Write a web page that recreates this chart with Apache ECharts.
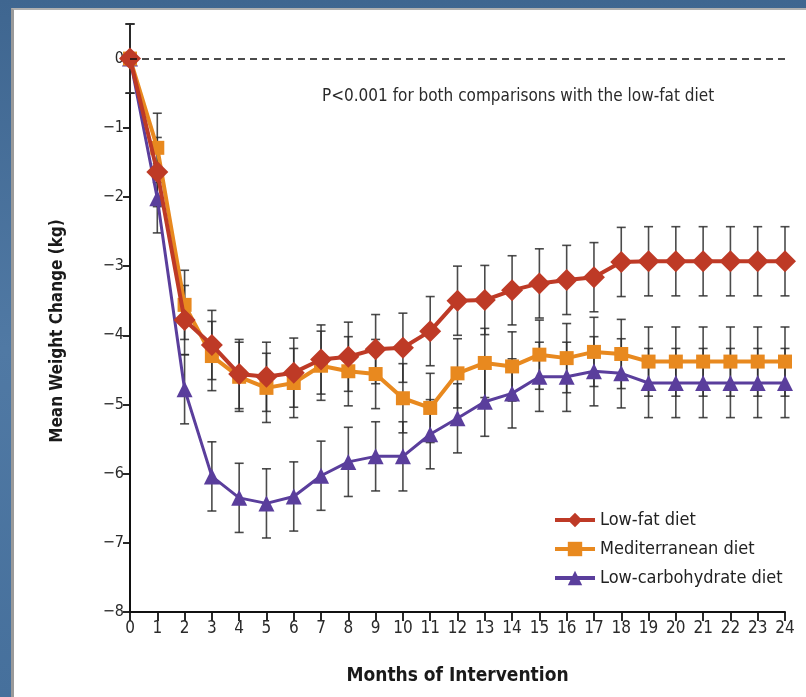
<!DOCTYPE html>
<html>
<head>
<meta charset="utf-8">
<script src="https://cdn.jsdelivr.net/npm/echarts@6/dist/echarts.min.js"></script>
<style>
  html, body { margin: 0; padding: 0; width: 806px; height: 697px; overflow: hidden; }
  body { background: linear-gradient(180deg, #3f6690 0%, #5079a4 50%, #46709c 100%); position: relative; }
  #panel { position: absolute; left: 11px; top: 8px; width: 795px; height: 689px; background: #ffffff;
           border-left: 3px solid #9a9a9a; border-top: 2px solid #b0b0b0; box-sizing: border-box; }
  #chart { position: absolute; left: 0; top: 0; width: 806px; height: 697px; }
</style>
</head>
<body>
<div id="panel"></div>
<div id="chart"></div>
<script>
const months = [0,1,2,3,4,5,6,7,8,9,10,11,12,13,14,15,16,17,18,19,20,21,22,23,24];
const seriesNames = ['Low-fat diet', 'Mediterranean diet', 'Low-carbohydrate diet'];
const lowFat = [0, -1.64, -3.78, -4.14, -4.56, -4.6, -4.54, -4.35, -4.31, -4.2, -4.18, -3.94, -3.5, -3.49, -3.35, -3.25, -3.2, -3.16, -2.94, -2.93, -2.93, -2.93, -2.93, -2.93, -2.93];
const mediterranean = [0, -1.29, -3.56, -4.3, -4.6, -4.76, -4.69, -4.44, -4.52, -4.56, -4.91, -5.05, -4.55, -4.4, -4.45, -4.28, -4.33, -4.24, -4.27, -4.38, -4.38, -4.38, -4.38, -4.38, -4.38];
const lowCarb = [0, -2.02, -4.78, -6.04, -6.35, -6.43, -6.33, -6.03, -5.83, -5.75, -5.75, -5.43, -5.2, -4.96, -4.84, -4.6, -4.6, -4.52, -4.55, -4.69, -4.69, -4.69, -4.69, -4.69, -4.69];
const lowFatErr = [0.5,0.5,0.5,0.5,0.5,0.5,0.5,0.5,0.5,0.5,0.5,0.5,0.5,0.5,0.5,0.5,0.5,0.5,0.5,0.5,0.5,0.5,0.5,0.5,0.5];
const mediterraneanErr = [0.5,0.5,0.5,0.5,0.5,0.5,0.5,0.5,0.5,0.5,0.5,0.5,0.5,0.5,0.5,0.5,0.5,0.5,0.5,0.5,0.5,0.5,0.5,0.5,0.5];
const lowCarbErr = [0.5,0.5,0.5,0.5,0.5,0.5,0.5,0.5,0.5,0.5,0.5,0.5,0.5,0.5,0.5,0.5,0.5,0.5,0.5,0.5,0.5,0.5,0.5,0.5,0.5];
const yTicks = [-8,-7,-6,-5,-4,-3,-2,-1,0];
const annotation = 'P<0.001 for both comparisons with the low-fat diet';
const yTitle = 'Mean Weight Change (kg)';
const xTitle = 'Months of Intervention';

const colors = ['#be3a26', '#e8891f', '#5a3e9c'];
const symbols = ['diamond', 'rect', 'triangle'];
const symbolSizes = [22, 14, 16];
const lineWidths = [4, 4, 3];
const values = [lowFat, mediterranean, lowCarb];
const errors = [lowFatErr, mediterraneanErr, lowCarbErr];
const FONT = '"Liberation Sans Narrow", "DejaVu Sans Condensed", "Open Sans", sans-serif';

function errorSeries(idx) {
  const data = months.map((m, i) => [m, values[idx][i] + errors[idx][i], values[idx][i] - errors[idx][i]]);
  return {
    type: 'custom',
    name: seriesNames[idx] + ' SE',
    z: 1,
    silent: true,
    data: data,
    renderItem: function (params, api) {
      const x = api.value(0);
      const hi = api.coord([x, api.value(1)]);
      const lo = api.coord([x, api.value(2)]);
      const hw = 4.5;
      const style = { stroke: '#2b2b2b', lineWidth: 1.6, opacity: 0.85 };
      return {
        type: 'group',
        children: [
          { type: 'line', shape: { x1: hi[0], y1: hi[1], x2: lo[0], y2: lo[1] }, style: style },
          { type: 'line', shape: { x1: hi[0] - hw, y1: hi[1], x2: hi[0] + hw, y2: hi[1] }, style: style },
          { type: 'line', shape: { x1: lo[0] - hw, y1: lo[1], x2: lo[0] + hw, y2: lo[1] }, style: style }
        ]
      };
    }
  };
}

function lineSeries(idx) {
  return {
    type: 'line',
    name: seriesNames[idx],
    z: 3,
    data: months.map((m, i) => [m, values[idx][i]]),
    symbol: symbols[idx],
    symbolSize: symbolSizes[idx],
    showAllSymbol: true,
    lineStyle: { color: colors[idx], width: lineWidths[idx] },
    itemStyle: { color: colors[idx], borderWidth: 0 },
    emphasis: { disabled: true }
  };
}

const chart = echarts.init(document.getElementById('chart'), null, { renderer: 'canvas' });

const series = [errorSeries(0), errorSeries(1), errorSeries(2), lineSeries(2), lineSeries(1), lineSeries(0)];
series[5].markLine = {
  silent: true,
  symbol: 'none',
  label: { show: false },
  lineStyle: { color: '#111', type: [7, 5], width: 1.6 },
  data: [{ yAxis: 0 }]
};
series[5].z = 4;

chart.setOption({
  animation: false,
  backgroundColor: 'transparent',
  grid: { left: 130, right: 21, top: 24, bottom: 85, containLabel: false },
  textStyle: { fontFamily: FONT },
  xAxis: {
    type: 'value', min: 0, max: 24, interval: 1,
    name: xTitle, nameLocation: 'middle', nameGap: 55,
    nameTextStyle: { fontFamily: FONT, fontSize: 19, fontWeight: 'bold', color: '#1a1a1a' },
    axisLine: { show: true, onZero: false, lineStyle: { color: '#111', width: 2 } },
    axisTick: { show: true, inside: false, length: 9, lineStyle: { color: '#111', width: 1.8 } },
    axisLabel: { fontFamily: FONT, fontSize: 17, color: '#2a2a2a', margin: 8 },
    splitLine: { show: false }
  },
  yAxis: {
    type: 'value', min: -8, max: 0.5, interval: 1,
    axisLine: { show: true, onZero: false, lineStyle: { color: '#111', width: 2 } },
    axisTick: { show: true, length: 7, lineStyle: { color: '#111', width: 1.8 },
      customValues: yTicks },
    axisLabel: { fontFamily: FONT, fontSize: 16, color: '#2a2a2a', margin: 6,
      customValues: yTicks,
      formatter: function (v) { return v < 0 ? '\u2212' + (-v) : String(v); } },
    splitLine: { show: false }
  },
  legend: {
    data: [seriesNames[0], seriesNames[1], seriesNames[2]],
    orient: 'vertical', left: 548, top: 506,
    itemWidth: 40, itemHeight: 18, itemGap: 11,
    lineStyle: { width: 4 },
    textStyle: { fontFamily: FONT, fontSize: 18, color: '#222' },
    selectedMode: false
  },
  graphic: [
    { type: 'text', left: 322, top: 88,
      style: { text: annotation, font: '17px ' + FONT, fill: '#2a2a2a' } },
    { type: 'text', x: 58, y: 331, rotation: Math.PI / 2,
      style: { text: yTitle, font: 'bold 17px ' + FONT, fill: '#1a1a1a', align: 'center', verticalAlign: 'middle' } }
  ],
  series: series
});
</script>
</body>
</html>
